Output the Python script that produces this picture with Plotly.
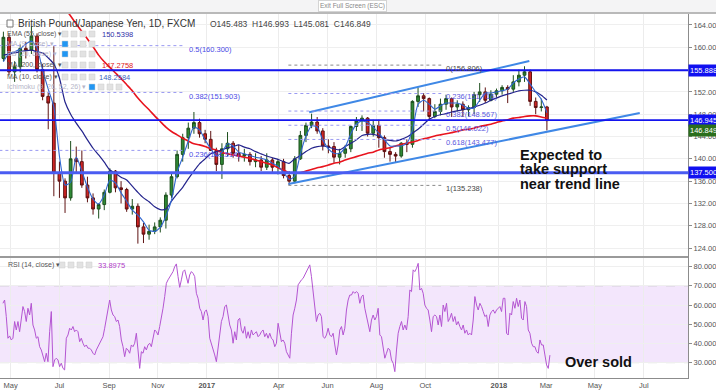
import pandas as pd
import plotly.graph_objects as go

# ---------------- data (weekly candles) ----------------
dates = pd.date_range("2016-04-22", periods=98, freq="7D")
first_open = 158.0
close = [161.8, 155.6, 156.5, 159.8, 159.5, 162.0, 156.0, 151.2, 150.0, 137.5,
         136.0, 133.0, 140.0, 139.5, 135.3, 133.0, 131.0, 131.8, 134.0, 137.8,
         134.8, 134.5, 131.0, 131.5, 127.8, 126.5, 127.0, 127.8, 129.0, 133.5,
         136.8, 140.8, 143.8, 145.5, 146.5, 144.5, 143.5, 141.5, 139.0, 141.8,
         142.8, 141.0, 140.5, 140.8, 139.5, 139.8, 138.5, 139.8, 138.5, 139.5,
         137.0, 136.0, 140.0, 144.2, 146.0, 146.6, 145.0, 142.3, 142.2, 140.3,
         141.0, 141.8, 145.8, 146.8, 147.3, 144.6, 146.0, 143.8, 141.3, 140.8,
         140.5, 142.8, 142.6, 150.3, 151.3, 150.8, 147.6, 148.5, 149.8, 150.8,
         149.3, 149.8, 148.8, 149.2, 151.5, 152.0, 150.5, 151.6, 152.2, 152.8,
         152.5, 153.8, 155.0, 155.6, 150.3, 149.2, 149.3, 146.849]
high = [162.8, 162.5, 157.5, 160.5, 161.0, 163.8, 162.5, 157.0, 152.0, 160.2,
        139.5, 136.5, 143.2, 142.2, 141.5, 136.8, 133.8, 132.0, 134.5, 138.3,
        138.0, 136.0, 134.8, 132.8, 132.0, 128.5, 128.2, 128.6, 129.5, 134.0,
        137.5, 141.5, 144.5, 146.5, 148.4, 147.2, 145.2, 145.0, 142.0, 142.8,
        144.8, 143.2, 142.5, 141.8, 141.2, 141.0, 140.5, 141.0, 140.2, 140.0,
        140.0, 137.8, 140.5, 145.0, 146.5, 148.1, 147.5, 145.5, 143.5, 143.0,
        141.8, 142.5, 146.0, 147.5, 147.8, 147.5, 147.0, 147.0, 144.2, 142.0,
        141.2, 143.0, 143.5, 150.5, 152.8, 151.8, 151.0, 149.8, 150.8, 151.5,
        151.0, 150.5, 150.3, 149.6, 152.0, 153.6, 152.8, 152.3, 152.6, 153.2,
        153.2, 155.0, 156.0, 156.6, 156.0, 151.0, 150.8, 149.5]
low = [157.5, 155.0, 153.8, 155.5, 158.0, 158.8, 155.5, 150.5, 145.3, 133.3,
       133.0, 130.3, 132.5, 137.3, 134.8, 132.2, 130.0, 129.3, 130.8, 133.8,
       134.0, 132.0, 130.5, 130.0, 124.8, 124.9, 125.5, 126.5, 126.8, 127.5,
       133.0, 136.5, 139.5, 141.8, 144.5, 143.8, 142.8, 141.5, 137.8, 136.4,
       140.5, 140.2, 139.5, 139.5, 138.8, 138.5, 137.8, 138.0, 137.5, 137.2,
       136.5, 135.3, 135.6, 139.8, 143.0, 145.5, 144.5, 141.5, 141.0, 139.3,
       139.0, 140.2, 141.2, 145.0, 145.0, 144.0, 144.0, 142.0, 140.2, 139.5,
       139.3, 140.2, 141.2, 142.0, 149.3, 148.5, 146.8, 147.3, 147.8, 148.8,
       147.5, 148.5, 147.5, 147.6, 148.0, 150.2, 150.0, 150.3, 150.8, 151.5,
       150.0, 152.0, 153.0, 153.8, 149.5, 148.0, 148.5, 145.1]
open_ = [first_open] + close[:-1]

ma10 = [157.4, 158.9, 159.2, 159.7, 160.6, 161.1, 159.9, 155.9, 152.5, 149.3,
        140.5, 135.3, 135.8, 140.3, 137.8, 134.9, 132.8, 131.9, 133.5, 136.2,
        135.7, 133.9, 132.4, 130.8, 129.9, 128.7, 127.2, 127.0, 127.7, 129.7,
        132.6, 137.6, 140.3, 143.2, 145.7, 145.2, 143.4, 141.8, 140.5, 141.2,
        142.7, 142.3, 141.2, 140.9, 140.6, 140.3, 140.1, 139.8, 139.2, 138.7,
        137.6, 136.3, 136.9, 140.9, 144.1, 145.9, 145.7, 143.4, 141.8, 141.0,
        141.0, 142.1, 144.5, 146.2, 146.8, 146.5, 145.7, 144.6, 143.4, 142.3,
        142.3, 142.3, 142.8, 145.2, 149.8, 150.5, 149.8, 148.9, 149.5, 150.0,
        150.0, 150.0, 149.6, 149.1, 149.1, 150.5, 151.8, 151.8, 152.0, 152.2,
        152.5, 153.6, 154.3, 154.7, 153.4, 152.0, 150.7, 148.26]
ema55 = [158.6, 158.8, 159.0, 159.2, 159.4, 159.5, 159.2, 159.0, 158.1, 157.0,
         154.5, 150.2, 148.0, 146.4, 145.0, 143.4, 141.9, 140.7, 139.4, 138.0,
         137.4, 136.7, 136.2, 135.1, 134.0, 133.0, 132.3, 131.4, 130.9, 131.0,
         132.4, 133.7, 134.9, 136.4, 137.8, 139.1, 140.0, 140.9, 141.3, 141.6,
         142.0, 142.2, 142.5, 142.1, 141.8, 141.3, 140.9, 140.5, 140.2, 139.9,
         139.5, 139.2, 140.0, 140.6, 141.3, 141.9, 142.2, 142.3, 142.1, 141.8,
         141.6, 142.2, 142.8, 143.4, 144.2, 144.4, 144.4, 144.1, 143.5, 143.3,
         143.2, 143.5, 143.9, 144.6, 145.3, 146.2, 147.1, 147.6, 147.9, 148.1,
         148.4, 148.6, 148.8, 149.0, 149.3, 149.6, 150.0, 150.5, 150.9, 151.3,
         151.6, 151.9, 152.2, 152.3, 152.3, 152.0, 151.4, 150.54]
ma200 = [178.0, 177.0, 176.0, 175.0, 174.0, 173.0, 172.0, 171.0, 170.0, 169.2,
         168.4, 167.0, 165.6, 164.2, 162.8, 161.5, 160.1, 158.6, 157.4, 156.4,
         155.4, 154.4, 153.3, 152.2, 150.9, 149.8, 148.8, 147.7, 146.7, 145.7,
         144.9, 144.3, 143.7, 143.2, 142.7, 142.5, 142.2, 141.8, 141.6, 141.1,
         140.9, 140.7, 140.5, 140.3, 140.1, 139.8, 139.5, 139.2, 138.9, 138.4,
         138.0, 137.5, 137.5, 137.5, 137.8, 138.1, 138.4, 138.6, 138.9, 139.2,
         139.4, 139.8, 140.1, 140.4, 140.7, 141.0, 141.2, 141.6, 141.8, 142.0,
         142.3, 142.6, 142.8, 143.0, 143.3, 143.6, 143.8, 144.1, 144.3, 144.5,
         144.7, 144.9, 145.2, 145.3, 145.5, 145.8, 146.0, 146.2, 146.5, 146.8,
         147.0, 147.3, 147.4, 147.6, 147.7, 147.7, 147.5, 147.28]

rsi = [60.9, 62.6, 54.0, 42.7, 43.9, 41.8, 42.7, 51.4, 47.0, 51.4,
       46.1, 53.1, 59.2, 56.6, 51.4, 58.3, 54.8, 60.9, 49.6, 47.0,
       42.7, 43.5, 38.3, 36.6, 33.1, 30.5, 34.9, 30.5, 46.1, 56.6,
       27.9, 31.4, 32.3, 31.4, 27.9, 29.7, 27.0, 26.2, 42.7, 44.4,
       47.9, 47.0, 48.8, 46.1, 47.0, 46.1, 40.9, 42.7, 40.1, 38.3,
       39.2, 37.5, 37.5, 36.6, 34.9, 34.0, 36.6, 38.3, 40.1, 41.8,
       43.5, 47.9, 52.2, 58.3, 62.6, 57.4, 54.8, 54.0, 51.4, 52.2,
       48.8, 41.8, 38.3, 33.1, 37.5, 36.6, 34.9, 39.2, 38.3, 40.1,
       45.3, 36.6, 27.0, 35.7, 34.9, 38.3, 36.6, 39.2, 40.1, 38.3,
       42.7, 47.0, 46.1, 44.4, 48.8, 53.1, 58.3, 64.4, 71.3, 73.1,
       74.8, 75.7, 77.4, 80.0, 81.4, 74.8, 69.2, 73.1, 77.4, 78.3,
       74.8, 71.3, 75.7, 77.4, 76.5, 74.8, 66.1, 63.5, 58.3, 56.6,
       52.2, 56.6, 57.4, 54.0, 42.7, 40.1, 36.6, 34.0, 30.5, 36.6,
       45.3, 51.4, 54.0, 59.2, 60.0, 54.0, 49.6, 47.0, 40.1, 46.1,
       41.8, 52.2, 53.1, 47.0, 45.3, 48.8, 42.7, 46.1, 42.7, 47.0,
       44.4, 45.3, 46.1, 43.5, 44.4, 46.1, 47.0, 43.5, 45.3, 42.7,
       45.3, 42.7, 41.8, 38.3, 40.1, 50.5, 45.3, 40.9, 41.8, 40.1,
       35.7, 34.0, 32.3, 45.3, 54.8, 58.3, 62.6, 70.5, 72.2, 73.1,
       73.9, 75.7, 77.4, 79.1, 80.9, 74.8, 67.5, 59.2, 51.4, 54.8,
       55.7, 54.0, 43.5, 42.7, 44.4, 47.9, 44.4, 43.5, 45.3, 39.2,
       34.0, 39.2, 47.0, 48.8, 44.4, 47.9, 57.4, 62.6, 65.2, 65.2,
       67.0, 66.1, 67.0, 66.1,
       60.9, 64.4, 65.2, 58.3, 54.0, 49.6, 46.1, 52.2, 54.8, 52.2,
       54.0, 58.3, 44.4, 43.5, 38.3, 32.3, 34.9, 37.5, 36.6, 31.4,
       29.7, 25.3, 36.6, 45.3, 48.8, 51.4, 47.0, 49.6, 47.0, 54.0,
       67.8, 67.0, 78.3, 77.4, 79.1, 81.7, 67.8, 68.7, 66.1, 60.0,
       58.3, 57.4, 52.2, 46.1, 54.0, 54.8, 54.0, 49.6, 54.8, 48.8,
       60.0, 56.6, 60.9, 51.4, 53.1, 55.7, 51.4, 54.0, 49.6, 51.4,
       48.8, 47.0, 49.6, 45.3, 47.0, 44.4, 45.3, 44.4, 52.2, 64.4,
       60.0, 57.4, 60.9, 59.2, 56.6, 54.0, 54.8, 48.8, 54.8, 56.6,
       57.4, 55.7, 57.4, 58.3, 59.2, 56.6, 63.5, 63.5, 45.3, 44.4,
       55.7, 54.8, 61.8, 58.3, 63.5, 59.2, 62.6, 53.1, 52.2, 61.8,
       59.2, 47.0, 45.3, 40.1, 38.3, 38.3, 35.7, 34.9, 41.8, 39.2,
       39.2, 34.0, 28.8, 27.0, 33.9]
rsi_dates = pd.date_range("2016-04-21 10:00", periods=len(rsi), freq="50h")
rsi_last_label = "33.8975"

h_levels = [155.888, 146.945, 137.5]
h_labels = ["155.888", "146.945", "137.500"]
last_close_label = "146.849"

fib1_values = [160.300, 151.903, 141.514]
fib1_labels = ["0.5(160.300)", "0.382(151.903)", "0.236(141.514)"]
fib1_span = ["2016-04-17", "2016-12-03"]

fib2_values = [156.806, 151.716, 148.567, 146.022, 143.477, 135.238]
fib2_labels = ["0(156.806)", "0.236(151.716)", "0.382(148.567)", "0.5(146.022)",
               "0.618(143.477)", "1(135.238)"]
fib2_span = ["2017-04-13", "2017-10-21"]

upper_trend_x = ["2017-05-09", "2018-02-08"]
upper_trend_y = [148.34, 157.54]
lower_trend_x = ["2017-04-13", "2018-06-26"]
lower_trend_y = [135.48, 148.22]

tick_dates = ["2016-05-01", "2016-07-01", "2016-09-01", "2016-11-01", "2017-01-01",
              "2017-04-01", "2017-06-01", "2017-08-01", "2017-10-01", "2018-01-01",
              "2018-03-01", "2018-05-01", "2018-07-01"]
tick_text = ["May", "Jul", "Sep", "Nov", "<b>2017</b>", "Apr", "Jun", "Aug", "Oct",
             "<b>2018</b>", "Mar", "May", "Jul"]
price_ticks = [124, 128, 132, 136, 140, 144, 148, 152, 156, 160, 164]
rsi_ticks = [30, 40, 50, 60, 70, 80]

# ---------------- figure ----------------
W, H = 716, 392
ML, MR, MT, MB = 0, 28, 0, 14
PW, PH = W - ML - MR, H - MT - MB
FONT = "Liberation Sans, Arial, sans-serif"


def px(x):
    return (x - ML) / PW


def py(y):
    return (H - MB - y) / PH


MAIN_TOP, SPLIT = 13, 257

fig = go.Figure()

fig.add_trace(go.Candlestick(
    x=dates, open=open_, high=high, low=low, close=close, xaxis="x", yaxis="y",
    increasing=dict(line=dict(color="#1d4f1d", width=1), fillcolor="#2f8a36"),
    decreasing=dict(line=dict(color="#5e1212", width=1), fillcolor="#cf2424"),
    whiskerwidth=0, showlegend=False, hoverinfo="skip"))

for vals, col, wd in [(ma200, "#e8141e", 1.6), (ema55, "#23238c", 1.2), (ma10, "#2f66d0", 1.1)]:
    fig.add_trace(go.Scatter(x=dates, y=vals, mode="lines", xaxis="x", yaxis="y",
                             line=dict(color=col, width=wd, shape="spline", smoothing=0.6),
                             showlegend=False, hoverinfo="skip"))

for tx, ty in [(upper_trend_x, upper_trend_y), (lower_trend_x, lower_trend_y)]:
    fig.add_trace(go.Scatter(x=tx, y=ty, mode="lines", xaxis="x", yaxis="y",
                             line=dict(color="#3f88e6", width=2), showlegend=False, hoverinfo="skip"))

fig.add_trace(go.Scatter(x=rsi_dates, y=rsi, mode="lines", xaxis="x2", yaxis="y2",
                         line=dict(color="#b455d2", width=1), showlegend=False, hoverinfo="skip"))

shapes = []
annotations = []


def note(**kw):
    kw.setdefault("showarrow", False)
    kw.setdefault("yanchor", "middle")
    annotations.append(kw)


# top bar
shapes.append(dict(type="rect", xref="paper", yref="paper", x0=-0.01, x1=1.1, y0=py(MAIN_TOP), y1=1.01,
                   fillcolor="#f4f4f5", line=dict(width=0), layer="below"))
shapes.append(dict(type="line", xref="paper", yref="paper", x0=0, x1=1.1, y0=py(MAIN_TOP), y1=py(MAIN_TOP),
                   line=dict(color="#b9b9b9", width=2)))
note(xref="paper", yref="paper", x=px(352), y=py(6), xanchor="center", text="Exit Full Screen (ESC)",
     font=dict(size=6.5, color="#888", family=FONT),
     bgcolor="#ffffff", bordercolor="#d4d4d4", borderwidth=1, borderpad=1)

# pane separator
shapes.append(dict(type="line", xref="paper", yref="paper", x0=0, x1=1, y0=py(SPLIT), y1=py(SPLIT),
                   line=dict(color="#9a9a9a", width=2)))

# RSI band
shapes.append(dict(type="rect", xref="x2 domain", yref="y2", x0=0, x1=1, y0=30, y1=70,
                   fillcolor="#f3e6fc", line=dict(width=0), layer="below"))
for lvl in (30, 70):
    shapes.append(dict(type="line", xref="x2 domain", yref="y2", x0=0, x1=1, y0=lvl, y1=lvl,
                       line=dict(color="#c4c4c4", width=1, dash="dash"), layer="below"))

# fib 1
for v, lab in zip(fib1_values, fib1_labels):
    shapes.append(dict(type="line", xref="x", yref="y", x0=fib1_span[0], x1=fib1_span[1], y0=v, y1=v,
                       line=dict(color="#9a9af2", width=1, dash="dot")))
    note(xref="x", yref="y", x="2016-12-07", y=v, yshift=-4, text=lab,
         xanchor="left", font=dict(size=7.5, color="#4b4be6", family=FONT))

# fib 2
for i, (v, lab) in enumerate(zip(fib2_values, fib2_labels)):
    edge = i in (0, len(fib2_values) - 1)
    col = "#8a8a8a" if edge else "#9a9af2"
    tcol = "#444444" if edge else "#5a5ae0"
    shapes.append(dict(type="line", xref="x", yref="y", x0=fib2_span[0], x1=fib2_span[1], y0=v, y1=v,
                       line=dict(color=col, width=1, dash="dot")))
    note(xref="x", yref="y", x="2017-10-24", y=v, yshift=-3, text=lab,
         xanchor="left", font=dict(size=7.5, color=tcol, family=FONT))

# horizontal support / resistance lines + price boxes
for v, lab in zip(h_levels, h_labels):
    thick = v == 137.5
    shapes.append(dict(type="line", xref="x domain", yref="y", x0=0, x1=1, y0=v, y1=v,
                       line=dict(color="#4a5cf2" if thick else "#1414ee", width=3 if thick else 1.8)))
    note(xref="paper", yref="y", x=1, y=v, text=lab, xanchor="left",
         width=36, align="left", bgcolor="#1010f0",
         font=dict(size=7.5, color="white", family=FONT), borderpad=1)
note(xref="paper", yref="y", x=1, y=close[-1], yshift=-10, text=last_close_label,
     xanchor="left", width=36, align="left", bgcolor="#2b6e1c",
     font=dict(size=7.5, color="white", family=FONT), borderpad=1)

# header texts
shapes.append(dict(type="rect", xref="paper", yref="paper", x0=px(7), x1=px(13), y0=py(27), y1=py(20),
                   line=dict(color="#777", width=1), fillcolor="white"))
note(xref="paper", yref="paper", x=px(16), y=py(23.5), xanchor="left",
     text="British Pound/Japanese Yen, 1D, FXCM", font=dict(size=10, color="#333", family=FONT))
note(xref="paper", yref="paper", x=px(208), y=py(24), xanchor="left",
     text="O145.483  H146.993  L145.081  C146.849", font=dict(size=8.5, color="#444", family=FONT))

legend_rows = [
    (34, "EMA (55, close)", "150.5398", "#2f2fa8", 100, "#555", False),
    (44, "MA (9, close)", "", "#999", 100, "#b5b5c8", True),
    (54, "BB (20, close)", "", "#999", 100, "#b5b5c8", True),
    (65, "MA (200, close)", "147.2758", "#e01818", 100, "#555", False),
    (77, "MA (10, close)", "148.2584", "#3a5fc0", 97, "#555", False),
    (87, "Ichimoku (9, 26, 52, 26)", "", "#999", 100, "#b5b5c8", True),
]
for y, name, val, vcol, vx, ncol, eye in legend_rows:
    note(xref="paper", yref="paper", x=px(5), y=py(y), xanchor="left", text=name + " ▾",
         font=dict(size=7, color=ncol, family=FONT))
    x0 = 62 if y != 87 else 89
    for k in range(4):
        fc = "#2196f3" if (eye and k == 0) else "#e2e2e2"
        shapes.append(dict(type="rect", xref="paper", yref="paper", x0=px(x0 + 9 * k), x1=px(x0 + 9 * k + 6),
                           y0=py(y + 3), y1=py(y - 3), fillcolor=fc, line=dict(color="#cfcfcf", width=0.5)))
    if val:
        note(xref="paper", yref="paper", x=px(vx), y=py(y), xanchor="left", text=val,
             font=dict(size=7.5, color=vcol, family=FONT))

# RSI legend
note(xref="paper", yref="paper", x=px(6), y=py(265), xanchor="left", text="RSI (14, close) ▾",
     font=dict(size=7, color="#555", family=FONT))
for k in range(4):
    shapes.append(dict(type="rect", xref="paper", yref="paper", x0=px(59 + 9 * k), x1=px(65 + 9 * k),
                       y0=py(268), y1=py(262), fillcolor="#e2e2e2", line=dict(color="#cfcfcf", width=0.5)))
note(xref="paper", yref="paper", x=px(96), y=py(265), xanchor="left", text=rsi_last_label,
     font=dict(size=7.5, color="#b040c8", family=FONT))

# commentary
for y, t in [(155, "Expected to"), (169.5, "take support"), (183.5, "near trend line")]:
    note(xref="paper", yref="paper", x=px(518), y=py(y), xanchor="left", text=f"<b>{t}</b>",
         font=dict(size=14.5, color="#111", family=FONT))
note(xref="paper", yref="paper", x=px(563), y=py(362), xanchor="left", text="<b>Over sold</b>",
     font=dict(size=14.5, color="#111", family=FONT))

x_range = ["2016-04-17 18:00", "2018-08-25 06:00"]
axis_font = dict(size=7.5, color="#555", family=FONT)
fig.update_layout(
    template="none",
    width=W, height=H, autosize=False,
    margin=dict(l=ML, r=MR, t=MT, b=MB, pad=0),
    paper_bgcolor="white", plot_bgcolor="white",
    font=dict(family=FONT, size=8, color="#555"),
    shapes=shapes, annotations=annotations, showlegend=False,
    xaxis=dict(domain=[0, 1], anchor="y", range=x_range, rangeslider=dict(visible=False),
               tickvals=tick_dates, showticklabels=False, automargin=False,
               showgrid=True, gridcolor="#ececec", gridwidth=1, zeroline=False, showline=False, ticks=""),
    xaxis2=dict(domain=[0, 1], anchor="y2", matches="x", range=x_range, tickvals=tick_dates, ticktext=tick_text,
                showgrid=True, gridcolor="#ececec", automargin=False,
                showline=True, linecolor="#8c8c8c", linewidth=1, ticks="", zeroline=False, tickfont=axis_font),
    yaxis=dict(domain=[py(SPLIT), py(MAIN_TOP)], anchor="x", side="right", range=[122.4, 166.15],
               tickvals=price_ticks, ticktext=[f"{t:.3f}" for t in price_ticks], automargin=False,
               showgrid=True, gridcolor="#efefef",
               showline=True, linecolor="#8c8c8c", ticks="outside", ticklen=3, tickcolor="#8c8c8c",
               zeroline=False, tickfont=axis_font),
    yaxis2=dict(domain=[0, py(SPLIT)], anchor="x2", side="right", range=[22, 85], tickvals=rsi_ticks,
                ticktext=[f"{t:.4f}" for t in rsi_ticks], automargin=False,
                showgrid=True, gridcolor="#efefef",
                showline=True, linecolor="#8c8c8c", ticks="outside", ticklen=3, tickcolor="#8c8c8c",
                zeroline=False, tickfont=axis_font),
)

fig.write_html("out.html", config={"displayModeBar": False},
               post_script="document.body.style.margin='0px';document.body.style.padding='0px';")
